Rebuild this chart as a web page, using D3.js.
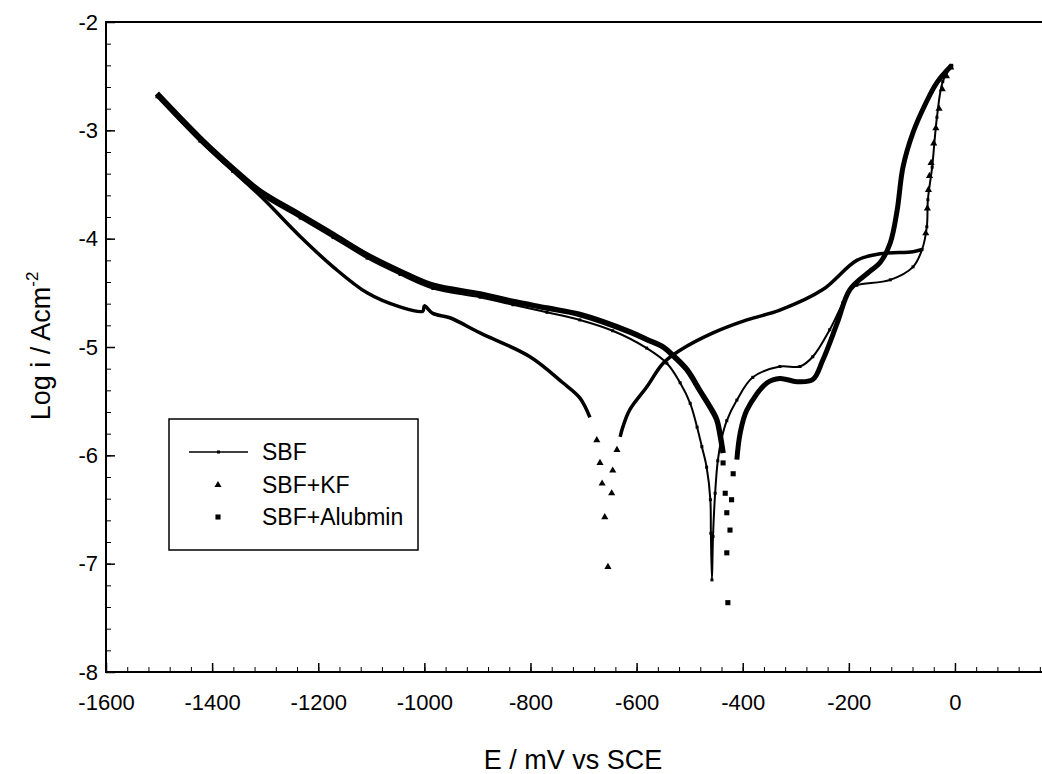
<!DOCTYPE html>
<html>
<head>
<meta charset="utf-8">
<script src="https://cdn.jsdelivr.net/npm/d3@7"></script>
<style>
  html, body { margin: 0; padding: 0; background: #fff; }
  svg { display: block; }
  text { font-family: "Liberation Sans", Arial, sans-serif; fill: #000; }
</style>
</head>
<body>
<svg id="chart" width="1042" height="774"></svg>
<script>
// tick labels
const xTicks = [-1600, -1400, -1200, -1000, -800, -600, -400, -200, 0];
const yTicks = [-8, -7, -6, -5, -4, -3, -2];

// SBF (line + small dots), potential in mV, log i
const sbfE = [-1504, -1423, -1361, -1310, -1234, -1172, -1108, -1046, -984, -895, -833, -769, -707, -645, -581, -543, -518, -499, -486, -477, -468, -461, -460, -458,
  -456, -452, -447, -440, -430, -411, -381, -330, -292, -268, -236, -211, -198, -185, -122, -79, -62, -53, -51, -43, -34, -23, -6];
const sbfLog = [-2.69, -3.10, -3.38, -3.59, -3.81, -3.99, -4.18, -4.33, -4.46, -4.54, -4.61, -4.68, -4.75, -4.85, -5.01, -5.15, -5.33, -5.52, -5.74, -5.92, -6.11, -6.41, -6.72, -7.15,
  -6.75, -6.35, -6.05, -5.85, -5.68, -5.49, -5.28, -5.18, -5.18, -5.09, -4.84, -4.59, -4.47, -4.43, -4.38, -4.26, -4.10, -3.89, -3.64, -3.34, -2.88, -2.55, -2.40];

// SBF+KF (triangles): cathodic trace, single points round the dip, anodic trace, points on the final rise
const kfCathE = [-1504, -1423, -1361, -1304, -1234, -1172, -1108, -1046, -1003, -1000, -984, -952, -895, -801, -739, -707, -688];
const kfCathLog = [-2.67, -3.09, -3.37, -3.63, -3.98, -4.26, -4.50, -4.63, -4.67, -4.62, -4.69, -4.73, -4.87, -5.09, -5.33, -5.47, -5.65];
const kfDipE = [-675, -669, -665, -660, -654, -647, -645, -637];
const kfDipLog = [-5.86, -6.07, -6.26, -6.57, -7.03, -6.35, -6.14, -5.95];
const kfAnE = [-631, -626, -613, -581, -550, -518, -456, -392, -330, -249, -185, -141, -79, -62];
const kfAnLog = [-5.83, -5.74, -5.58, -5.37, -5.15, -5.03, -4.87, -4.75, -4.66, -4.47, -4.20, -4.14, -4.12, -4.10];
const kfTailE = [-55, -52, -50, -48, -45, -40, -36, -30, -24, -16, -8];
const kfTailLog = [-3.95, -3.72, -3.55, -3.42, -3.30, -3.12, -2.98, -2.80, -2.62, -2.50, -2.42];

// SBF+Alubmin (squares)
const albCathE = [-1504, -1423, -1361, -1310, -1234, -1172, -1108, -1046, -984, -895, -833, -769, -707, -613, -581, -550, -531, -505, -481, -462, -449, -443, -437];
const albCathLog = [-2.66, -3.07, -3.35, -3.56, -3.78, -3.96, -4.15, -4.30, -4.43, -4.51, -4.58, -4.64, -4.70, -4.86, -4.93, -5.00, -5.08, -5.21, -5.40, -5.55, -5.67, -5.80, -5.98];
const albDipE = [-437, -418, -433, -421, -430, -424, -430, -428];
const albDipLog = [-6.07, -6.17, -6.35, -6.41, -6.53, -6.69, -6.90, -7.36];
const albAnE = [-411, -405, -392, -354, -330, -298, -268, -249, -222, -198, -160, -141, -122, -109, -98, -79, -55, -34, -6];
const albAnLog = [-6.04, -5.80, -5.58, -5.33, -5.29, -5.32, -5.30, -5.12, -4.78, -4.47, -4.30, -4.22, -4.04, -3.74, -3.34, -3.02, -2.75, -2.56, -2.40];

const seriesNames = ['SBF', 'SBF+KF', 'SBF+Alubmin'];

const svg = d3.select('#chart');
const mLeft = 106, mTop = 22, mBottom = 672;

const x = d3.scaleLinear().domain([-1600, 170]).range([mLeft, mLeft + 1770 * 0.5306]);
const y = d3.scaleLinear().domain([-8, -2]).range([mBottom, mTop]);

const pts = (e, l) => d3.zip(e, l);
const line = d3.line().x(d => x(d[0])).y(d => y(d[1])).curve(d3.curveCatmullRom.alpha(0.5));

// minor ticks
svg.append('g')
  .attr('transform', `translate(0,${mBottom})`)
  .call(d3.axisBottom(x).tickValues(d3.range(-1600, 171, 40)).tickSizeInner(-5).tickSizeOuter(0).tickFormat(''))
  .call(g => g.select('.domain').remove());
svg.append('g')
  .attr('transform', `translate(${mLeft},0)`)
  .call(d3.axisLeft(y).tickValues(d3.range(-8, -1.99, 0.2)).tickSizeInner(-5).tickSizeOuter(0).tickFormat(''))
  .call(g => g.select('.domain').remove());

// major ticks with labels (plain hyphen minus like the original)
const xAxis = svg.append('g')
  .attr('transform', `translate(0,${mBottom})`)
  .call(d3.axisBottom(x).tickValues(xTicks).tickSizeInner(-9).tickSizeOuter(0).tickPadding(22).tickFormat(d => String(d)));
xAxis.select('.domain').remove();
xAxis.selectAll('text').style('font-size', '22px').attr('fill', '#000');
xAxis.selectAll('line').attr('stroke-width', 1.5);

const yAxis = svg.append('g')
  .attr('transform', `translate(${mLeft},0)`)
  .call(d3.axisLeft(y).tickValues(yTicks).tickSizeInner(-9).tickSizeOuter(0).tickPadding(8).tickFormat(d => String(d)));
yAxis.select('.domain').remove();
yAxis.selectAll('text').style('font-size', '22px').attr('fill', '#000');
yAxis.selectAll('line').attr('stroke-width', 1.5);

svg.selectAll('.tick line').attr('stroke', '#000');

// frame
svg.append('rect')
  .attr('x', mLeft).attr('y', mTop)
  .attr('width', x.range()[1] - mLeft).attr('height', mBottom - mTop)
  .attr('fill', 'none').attr('stroke', '#000').attr('stroke-width', 2);

// curves
const plot = svg.append('g');

const tri = d3.symbol(d3.symbolTriangle, 22);
const sq = d3.symbol(d3.symbolSquare, 26);

// SBF+Alubmin
plot.append('path').attr('d', line(pts(albCathE, albCathLog))).attr('fill', 'none').attr('stroke', '#000').attr('stroke-width', 5.5);
plot.append('path').attr('d', line(pts(albAnE, albAnLog))).attr('fill', 'none').attr('stroke', '#000').attr('stroke-width', 5);
plot.selectAll('.albdip').data(pts(albDipE, albDipLog)).join('path')
  .attr('transform', d => `translate(${x(d[0])},${y(d[1])})`).attr('d', sq).attr('fill', '#000');

// SBF+KF
[pts(kfCathE, kfCathLog), pts(kfAnE, kfAnLog)].forEach(p => {
  plot.append('path').attr('d', line(p)).attr('fill', 'none').attr('stroke', '#000').attr('stroke-width', 3.5);
});
plot.selectAll('.kfdip').data(pts(kfDipE, kfDipLog).concat(pts(kfTailE, kfTailLog))).join('path')
  .attr('transform', d => `translate(${x(d[0])},${y(d[1])})`).attr('d', tri).attr('fill', '#000');

// SBF
plot.append('path').attr('d', line(pts(sbfE, sbfLog))).attr('fill', 'none').attr('stroke', '#000').attr('stroke-width', 2);
plot.selectAll('.sbfdot').data(pts(sbfE, sbfLog)).join('rect')
  .attr('x', d => x(d[0]) - 1.5).attr('y', d => y(d[1]) - 1.5)
  .attr('width', 3).attr('height', 3).attr('fill', '#000');

// axis titles
svg.append('text')
  .attr('x', 573).attr('y', 769)
  .attr('text-anchor', 'middle')
  .style('font-size', '27px')
  .text('E / mV vs SCE');

const yt = svg.append('text')
  .attr('transform', 'translate(50,346) rotate(-90)')
  .attr('text-anchor', 'middle')
  .style('font-size', '27px');
yt.append('tspan').text('Log i / Acm');
yt.append('tspan').attr('dy', -12).style('font-size', '17px').text('-2');

// legend
const lg = svg.append('g');
lg.append('rect').attr('x', 169).attr('y', 419).attr('width', 249).attr('height', 131)
  .attr('fill', '#fff').attr('stroke', '#000').attr('stroke-width', 1.5);
const rows = [452, 485, 517];
lg.append('line').attr('x1', 189).attr('x2', 248).attr('y1', rows[0]).attr('y2', rows[0])
  .attr('stroke', '#000').attr('stroke-width', 1.5);
lg.append('rect').attr('x', 217).attr('y', rows[0] - 1.5).attr('width', 3).attr('height', 3).attr('fill', '#000');
lg.append('path').attr('transform', `translate(218,${rows[1]})`).attr('d', tri).attr('fill', '#000');
lg.append('path').attr('transform', `translate(218,${rows[2]})`).attr('d', sq).attr('fill', '#000');
lg.selectAll('.lt').data(seriesNames).join('text')
  .attr('x', 262).attr('y', (d, i) => rows[i]).attr('dy', '0.36em')
  .style('font-size', '23px')
  .text(d => d);
</script>
</body>
</html>
